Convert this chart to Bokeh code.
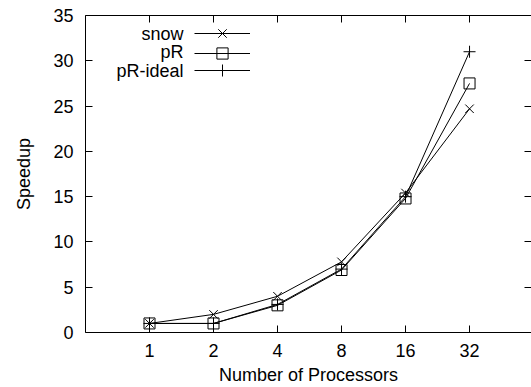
from bokeh.plotting import figure
from bokeh.models import (Range1d, LogAxis, LinearAxis, FixedTicker, Legend,
                          LegendItem, Label)
from bokeh.embed import file_html
from bokeh.resources import INLINE

# ---- data ----
procs = [1, 2, 4, 8, 16, 32]
xlabels = ["1", "2", "4", "8", "16", "32"]
snow = [1.0, 2.0, 4.0, 7.8, 15.4, 24.7]
pR = [1.0, 1.0, 3.0, 6.9, 14.8, 27.5]
pR_ideal = [1.0, 1.0, 3.1, 7.0, 15.0, 31.0]
yticks = [0, 5, 10, 15, 20, 25, 30, 35]
series_names = ["snow", "pR", "pR-ideal"]

FONT = "Liberation Sans"
FS = "18px"
BLACK = "#000000"

p = figure(width=531, height=387, x_axis_type="log",
           x_range=Range1d(0.5, 62.6), y_range=Range1d(0, 35),
           output_backend="svg", toolbar_location=None,
           min_border_left=85, min_border_right=0,
           min_border_top=15, min_border_bottom=55)
p.outline_line_color = None
p.grid.visible = False
p.background_fill_color = "white"
p.border_fill_color = "white"

overrides = {x: lab for x, lab in zip(procs, xlabels)}

def style_axis(ax, show_labels=True):
    ax.axis_line_color = BLACK
    ax.axis_line_width = 1
    ax.major_tick_line_color = BLACK
    ax.major_tick_in = 7
    ax.major_tick_out = 0
    ax.minor_tick_in = 0
    ax.minor_tick_out = 0
    ax.minor_tick_line_color = None
    ax.major_label_text_font = FONT
    ax.major_label_text_color = BLACK
    if show_labels:
        ax.major_label_text_font_size = FS
    else:
        ax.major_label_text_font_size = "0px"
        ax.major_label_standoff = 0
    ax.axis_label_text_font = FONT
    ax.axis_label_text_font_size = FS
    ax.axis_label_text_font_style = "normal"
    ax.axis_label_text_color = BLACK

# bottom x axis
xa = p.xaxis[0]
xa.ticker = FixedTicker(ticks=procs)
xa.major_label_overrides = overrides
style_axis(xa)
xa.major_label_standoff = 11
xa.axis_label = "Number of Processors"
xa.axis_label_standoff = 5

# left y axis
ya = p.yaxis[0]
ya.ticker = FixedTicker(ticks=yticks)
style_axis(ya)
ya.major_label_standoff = 12
ya.axis_label = "Speedup"
ya.axis_label_standoff = 16

# top mirror axis
top = LogAxis(ticker=FixedTicker(ticks=procs))
style_axis(top, show_labels=False)
top.major_label_overrides = {x: "" for x in procs}
p.add_layout(top, "above")

# right mirror axis (frame line is off-canvas in the reference)
right = LinearAxis(ticker=FixedTicker(ticks=yticks))
style_axis(right, show_labels=False)
right.major_label_overrides = {y: "" for y in yticks}
right.axis_line_color = None
p.add_layout(right, "right")

# ---- series ----
series = [(snow, "x", 12), (pR, "square", 11), (pR_ideal, "cross", 12)]
for i, ((vals, marker, size), name) in enumerate(zip(series, series_names)):
    ln = p.line(procs, vals, line_color=BLACK, line_width=1)
    sc = p.scatter(procs, vals, marker=marker, size=size,
                   fill_color=None, line_color=BLACK, line_width=1)
    row_y = 299 - 18.5 * i
    lg = Legend(items=[LegendItem(label=" ", renderers=[ln, sc])],
                location=(109, row_y - 15),
                glyph_width=56, glyph_height=30 if size >= 12 else 28,
                label_standoff=0, label_width=0, label_height=0,
                label_text_font_size="1px",
                padding=0, margin=0,
                border_line_color=None, background_fill_alpha=0)
    p.add_layout(lg, "center")
    p.add_layout(Label(x=98, y=row_y, x_units="screen", y_units="screen",
                       text=name, text_align="right", text_baseline="middle",
                       text_font=FONT, text_font_size=FS, text_color=BLACK))

open("out.html", "w").write(file_html(p, INLINE))
